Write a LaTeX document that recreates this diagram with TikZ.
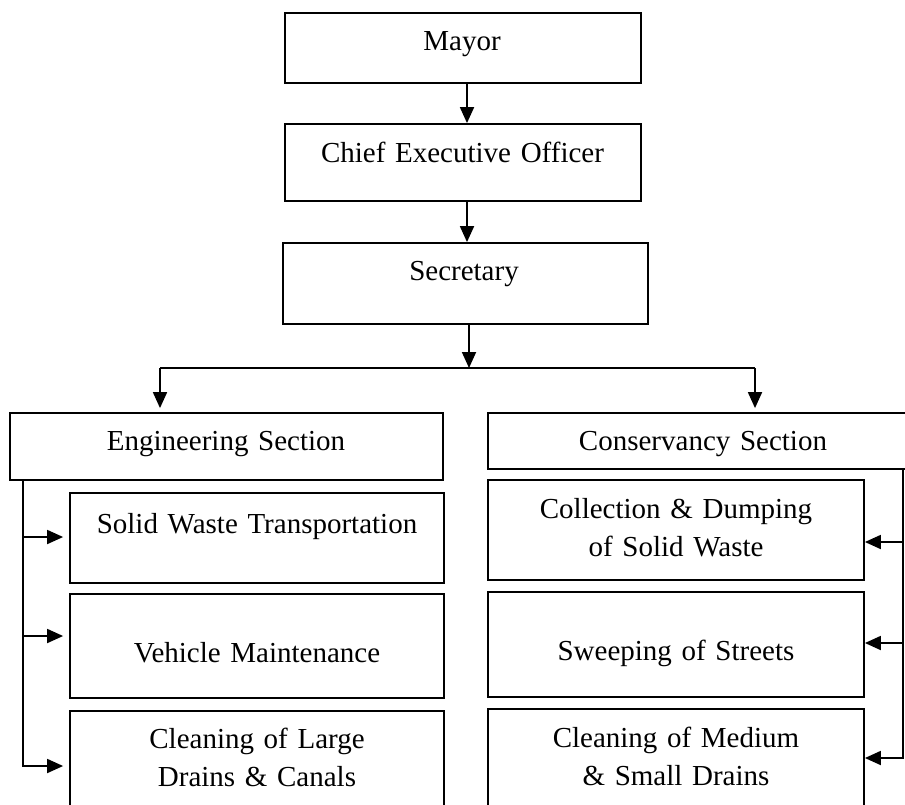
\documentclass[tikz,border=0pt]{standalone}
\usepackage{fontspec}
\setmainfont{Liberation Serif}
\usetikzlibrary{arrows.meta}
\tikzset{
  box/.style={draw, rectangle, line width=1.8pt, inner sep=0pt},
  txt/.style={text width=420pt, align=center, anchor=base, inner sep=0pt,
              font=\fontsize{29}{38}\selectfont},
  conn/.style={line width=1.8pt},
  arr/.style={line width=1.8pt, -{Triangle[length=16pt,width=14pt]}}
}
\begin{document}
\begin{tikzpicture}[x=1pt,y=-1pt]
\useasboundingbox (0,0) rectangle (905,804);
\clip (0,0) rectangle (905,804);
\fill[white] (0,0) rectangle (905,804);
% boxes
\node[box, minimum width=356pt, minimum height=70pt] (mayor) at (463,48) {};
\node[box, minimum width=356pt, minimum height=77pt] (ceo) at (463,162.5) {};
\node[box, minimum width=365pt, minimum height=81pt] (sec) at (465.5,283.5) {};
\node[box, minimum width=433pt, minimum height=67pt] (eng) at (226.5,446.5) {};
\node[box, minimum width=430pt, minimum height=56pt] (cons) at (703,441) {};
\node[box, minimum width=374pt, minimum height=90pt] (sw) at (257,538) {};
\node[box, minimum width=374pt, minimum height=104pt] (vm) at (257,646) {};
\node[box, minimum width=374pt, minimum height=109pt] (cl) at (257,765.5) {};
\node[box, minimum width=376pt, minimum height=100pt] (cd) at (676,530) {};
\node[box, minimum width=376pt, minimum height=105pt] (ss) at (676,644.5) {};
\node[box, minimum width=376pt, minimum height=111pt] (cm) at (676,764.5) {};
% texts
\node[txt] (mayorT) at (462,50) {Mayor};
\node[txt] (ceoT) at (462.5,162) {Chief Executive Officer};
\node[txt] (secT) at (464,280) {Secretary};
\node[txt] (engT) at (226,450) {Engineering Section};
\node[txt] (consT) at (703,450) {Conservancy Section};
\node[txt] (swT) at (257,533) {Solid Waste Transportation};
\node[txt] (vmT) at (257,662) {Vehicle Maintenance};
\node[txt] (clT) at (257,748) {Cleaning of Large\\Drains \& Canals};
\node[txt] (cdT) at (676,518) {Collection \& Dumping\\of Solid Waste};
\node[txt] (ssT) at (676,660) {Sweeping of Streets};
\node[txt] (cmT) at (676,747) {Cleaning of Medium\\\& Small Drains};
% top chain
\draw[arr] ([xshift=4pt]mayor.south) -- ([xshift=4pt]ceo.north);
\draw[arr] ([xshift=4pt]ceo.south) -- ([xshift=4pt]ceo.south |- sec.north);
\coordinate (jc) at (469,368);
\coordinate (jl) at (160,368);
\coordinate (jr) at (755,368);
\draw[arr] (sec.south -| jc) -- (jc);
\draw[conn] (jl) -- (jr);
\draw[arr, shorten >=4pt] (jl) -- (jl |- eng.north);
\draw[arr, shorten >=4pt] (jr) -- (jr |- cons.north);
% left bus
\coordinate (lt) at (23,480);
\coordinate (lb) at (23,767);
\coordinate (l1) at (23,537);
\coordinate (l2) at (23,636);
\coordinate (l3) at (23,766);
\draw[conn] (lt) -- (lb);
\draw[arr, shorten >=6pt] (l1) -- (l1 -| sw.west);
\draw[arr, shorten >=6pt] (l2) -- (l2 -| vm.west);
\draw[arr, shorten >=6pt] (l3) -- (l3 -| cl.west);
% right bus
\coordinate (rt) at (903,469);
\coordinate (rb) at (903,758.9);
\coordinate (r1) at (903,542);
\coordinate (r2) at (903,643);
\coordinate (r3) at (903,758);
\draw[conn] (rt) -- (rb);
\draw[arr] (r1) -- (r1 -| cd.east);
\draw[arr] (r2) -- (r2 -| ss.east);
\draw[arr] (r3) -- (r3 -| cm.east);
\end{tikzpicture}
\end{document}
